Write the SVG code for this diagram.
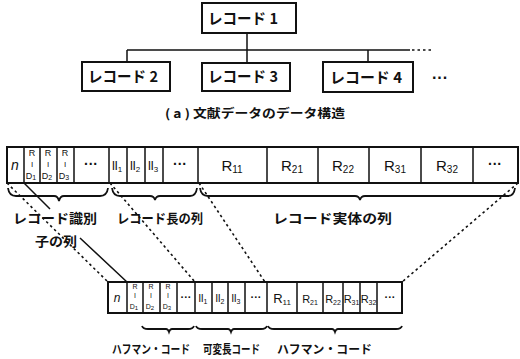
<svg xmlns="http://www.w3.org/2000/svg" width="520" height="359" viewBox="0 0 520 359">
<style>
.box{fill:#fff;stroke:#111;stroke-width:2}
.ln{fill:none;stroke:#111;stroke-width:1.5}
.dash{fill:none;stroke:#111;stroke-width:1.6;stroke-dasharray:2.5 3}
.br{fill:none;stroke:#111;stroke-width:1.8}
.jp{font-family:"Noto Sans CJK JP","Noto Sans",sans-serif;font-weight:bold;fill:#111}
.lt{font-family:"Liberation Sans","DejaVu Sans",sans-serif;fill:#111}
</style>
<rect width="520" height="359" fill="#fff"/>
<g id="connectors">
<path class="ln" d="M247,33 V65 M127,50 H410 M127,50 V62 M368,50 V62"/>
<path class="dash" d="M412,50 H434"/>
<path class="dash" d="M7,183 L108,282"/>
<path class="ln" d="M24,183 L50,209 M80,238 L127,282"/>
<path class="dash" d="M110,183 L195,282"/>
<path class="dash" d="M199,183 L265,282"/>
<path class="dash" d="M518,183 L402,282"/>
</g>
<g id="record1"><rect class="box" x="202" y="3" width="94" height="30"/><text class="jp" x="208" y="24" font-size="15" textLength="70" lengthAdjust="spacingAndGlyphs">レコード 1</text></g>
<g id="record2"><rect class="box" x="82" y="62" width="88" height="29"/><text class="jp" x="88" y="82" font-size="15" textLength="70" lengthAdjust="spacingAndGlyphs">レコード 2</text></g>
<g id="record3"><rect class="box" x="202" y="63" width="88" height="28"/><text class="jp" x="208" y="82" font-size="15" textLength="70" lengthAdjust="spacingAndGlyphs">レコード 3</text></g>
<g id="record4"><rect class="box" x="323" y="62" width="90" height="30"/><text class="jp" x="330" y="83" font-size="15" textLength="72" lengthAdjust="spacingAndGlyphs">レコード 4</text></g>
<g id="more-records"><text class="lt" x="440" y="83" font-size="16" font-weight="bold" text-anchor="middle">···</text></g>
<g id="caption"><text class="jp" x="165" y="118" font-size="12" textLength="180" lengthAdjust="spacingAndGlyphs">( a ) 文献データのデータ構造</text></g>

<g id="top-row">
<rect class="box" x="7" y="147" width="511" height="36"/>
<path class="ln" d="M24,147V183 M40,147V183 M57,147V183 M74,147V183 M109,147V183 M127,147V183 M145,147V183 M163,147V183 M198,147V183 M267,147V183 M318,147V183 M369,147V183 M421,147V183 M473,147V183"/>
<text class="lt" x="15" y="170" font-size="14" font-style="italic" text-anchor="middle">n</text>
<g font-size="9" text-anchor="middle" class="lt">
<text x="32" y="156">R</text><text x="32" y="167" font-size="8">I</text><text x="31" y="179">D<tspan font-size="7" dy="1">1</tspan></text>
<text x="48" y="156">R</text><text x="48" y="167" font-size="8">I</text><text x="47" y="179">D<tspan font-size="7" dy="1">2</tspan></text>
<text x="65" y="156">R</text><text x="65" y="167" font-size="8">I</text><text x="64" y="179">D<tspan font-size="7" dy="1">3</tspan></text>
</g>
<text class="lt" x="91" y="169" font-size="14" font-weight="bold" text-anchor="middle">···</text>
<g class="lt" font-size="13" text-anchor="middle">
<text x="117" y="170">ll<tspan font-size="8" dy="2">1</tspan></text>
<text x="135" y="170">ll<tspan font-size="8" dy="2">2</tspan></text>
<text x="153" y="170">ll<tspan font-size="8" dy="2">3</tspan></text>
</g>
<text class="lt" x="180" y="169" font-size="14" font-weight="bold" text-anchor="middle">···</text>
<g class="lt" font-size="15" text-anchor="middle">
<text x="232" y="171">R<tspan font-size="10" dy="2">11</tspan></text>
<text x="292" y="171">R<tspan font-size="10" dy="2">21</tspan></text>
<text x="343" y="171">R<tspan font-size="10" dy="2">22</tspan></text>
<text x="395" y="171">R<tspan font-size="10" dy="2">31</tspan></text>
<text x="447" y="171">R<tspan font-size="10" dy="2">32</tspan></text>
</g>
<text class="lt" x="495" y="169" font-size="14" font-weight="bold" text-anchor="middle">···</text>
</g>

<g id="top-braces">
<path class="br" d="M8,188 Q9,196 16,196 H54 Q58,196 59,201 Q60,196 64,196 H100 Q107,196 108,188"/>
<path class="br" d="M112,188 Q113,196 120,196 H150 Q154,196 155,200 Q156,196 160,196 H190 Q196,196 197,188"/>
<path class="br" d="M200,188 Q201,196 208,196 H355 Q359,196 360,200 Q361,196 365,196 H508 Q514,196 515,188"/>
</g>
<g id="top-labels">
<text class="jp" x="13" y="223" font-size="13" textLength="84" lengthAdjust="spacingAndGlyphs">レコード識別</text>
<text class="jp" x="35" y="246" font-size="13" textLength="42" lengthAdjust="spacingAndGlyphs">子の列</text>
<text class="jp" x="117" y="223" font-size="13" textLength="86" lengthAdjust="spacingAndGlyphs">レコード長の列</text>
<text class="jp" x="273" y="223" font-size="13" textLength="119" lengthAdjust="spacingAndGlyphs">レコード実体の列</text>
</g>

<g id="bottom-row">
<rect class="box" x="108" y="282" width="294" height="31"/>
<path class="ln" d="M127,282V313 M143,282V313 M160,282V313 M177,282V313 M195,282V313 M212,282V313 M228,282V313 M245,282V313 M267,282V313 M297,282V313 M323,282V313 M343,282V313 M360,282V313 M377,282V313"/>
<text class="lt" x="117" y="302" font-size="12" font-style="italic" text-anchor="middle">n</text>
<g font-size="7" text-anchor="middle" class="lt">
<text x="135" y="289">R</text><text x="135" y="298">I</text><text x="134" y="309">D<tspan font-size="6" dy="1">1</tspan></text>
<text x="151" y="289">R</text><text x="151" y="298">I</text><text x="150" y="309">D<tspan font-size="6" dy="1">2</tspan></text>
<text x="168" y="289">R</text><text x="168" y="298">I</text><text x="167" y="309">D<tspan font-size="6" dy="1">3</tspan></text>
</g>
<text class="lt" x="186" y="301" font-size="11" font-weight="bold" text-anchor="middle">···</text>
<g class="lt" font-size="11" text-anchor="middle">
<text x="203" y="302">ll<tspan font-size="7" dy="2">1</tspan></text>
<text x="220" y="302">ll<tspan font-size="7" dy="2">2</tspan></text>
<text x="236" y="302">ll<tspan font-size="7" dy="2">3</tspan></text>
</g>
<text class="lt" x="256" y="301" font-size="11" font-weight="bold" text-anchor="middle">···</text>
<text class="lt" x="282" y="303" font-size="13" text-anchor="middle">R<tspan font-size="8" dy="2">11</tspan></text>
<g class="lt" font-size="11" text-anchor="middle">
<text x="310" y="303">R<tspan font-size="7" dy="2">21</tspan></text>
<text x="333" y="303">R<tspan font-size="7" dy="2">22</tspan></text>
<text x="351.5" y="303">R<tspan font-size="7" dy="2">31</tspan></text>
<text x="368.5" y="303">R<tspan font-size="7" dy="2">32</tspan></text>
</g>
<text class="lt" x="390" y="301" font-size="11" font-weight="bold" text-anchor="middle">···</text>
</g>

<g id="bottom-braces">
<path class="br" d="M142,326 Q143,329 148,329 H166 Q168,329 169,332 Q170,329 172,329 H188 Q193,329 194,326"/>
<path class="br" d="M196,326 Q197,329 202,329 H228 Q230,329 231,332 Q232,329 234,329 H261 Q266,329 267,326"/>
<path class="br" d="M268,326 Q269,329 274,329 H332 Q334,329 335,332 Q336,329 338,329 H396 Q401,329 402,326"/>
</g>
<g id="bottom-labels">
<text class="jp" x="112" y="354" font-size="12" textLength="78" lengthAdjust="spacingAndGlyphs">ハフマン・コード</text>
<text class="jp" x="203" y="354" font-size="12" textLength="57" lengthAdjust="spacingAndGlyphs">可変長コード</text>
<text class="jp" x="277" y="354" font-size="12" textLength="95" lengthAdjust="spacingAndGlyphs">ハフマン・コード</text>
</g>
</svg>
